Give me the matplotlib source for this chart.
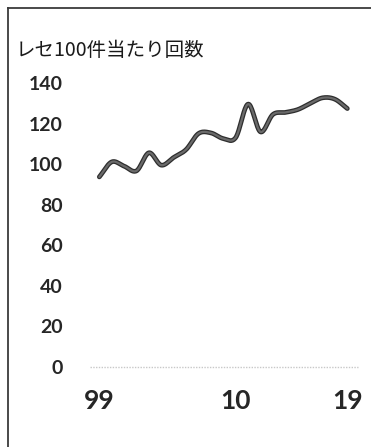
import numpy as np
import matplotlib
matplotlib.use("Agg")
import matplotlib.pyplot as plt
import matplotlib.patheffects as pe
from matplotlib.lines import Line2D

# Receipt-based count per 100 claims, fiscal 1999-2019
years = list(range(1999, 2020))
counts = [93.7, 101.1, 99.0, 96.7, 105.6, 99.5, 103.3, 107.2, 115.1, 115.4,
          112.6, 113.1, 129.6, 115.9, 124.5, 125.5, 126.9, 129.9, 132.7, 132.0,
          127.4]
y_ticks = [0, 20, 40, 60, 80, 100, 120, 140]
x_ticks = [1999, 2010, 2019]
x_ticklabels = ["99", "10", "19"]
ylabel_text = "レセ100件当たり回数"


def catmull_rom(x, y, n=20):
    """Smooth curve through the given points (Excel-style smoothed line)."""
    x = np.asarray(x, float)
    y = np.asarray(y, float)
    px = np.concatenate([[2 * x[0] - x[1]], x, [2 * x[-1] - x[-2]]])
    py = np.concatenate([[2 * y[0] - y[1]], y, [2 * y[-1] - y[-2]]])
    xs, ys = [], []
    t = np.linspace(0, 1, n, endpoint=False)
    for i in range(1, len(px) - 2):
        for arr, out in ((px, xs), (py, ys)):
            p0, p1, p2, p3 = arr[i - 1], arr[i], arr[i + 1], arr[i + 2]
            out.extend(0.5 * ((2 * p1) + (-p0 + p2) * t
                              + (2 * p0 - 5 * p1 + 4 * p2 - p3) * t ** 2
                              + (-p0 + 3 * p1 - 3 * p2 + p3) * t ** 3))
    xs.append(x[-1])
    ys.append(y[-1])
    return np.array(xs), np.array(ys)


W, H = 371, 447
fig = plt.figure(figsize=(W / 100, H / 100), dpi=100)
fig.patch.set_facecolor("white")

# axes placed in pixel terms: x 90..358, y 83 (top) .. 367 (zero line)
left, right, top, bottom = 90, 358, 83, 367
ax = fig.add_axes([left / W, 1 - bottom / H, (right - left) / W, (bottom - top) / H])
ax.set_xlim(1998.25, 2019.86)
ax.set_ylim(0, 140)
ax.set_facecolor("none")
for s in ax.spines.values():
    s.set_visible(False)

ax.axhline(0, color="#c8c8c8", lw=1.0, ls=(0, (1, 1)), clip_on=False)

sx, sy = catmull_rom(years, counts)
ax.plot(sx, sy, color="#6a6a6a", lw=1.6, solid_capstyle="round",
        path_effects=[pe.Stroke(linewidth=3.4, foreground="#2e2e2e"), pe.Normal()])

ax.set_yticks(y_ticks)
ax.set_yticklabels([str(v) for v in y_ticks], fontfamily="Lato",
                   fontweight="bold", fontsize=14, color="#262626")
ax.set_xticks(x_ticks)
ax.set_xticklabels(x_ticklabels, fontfamily="Lato", fontweight="bold",
                   fontsize=19, color="#262626")
ax.tick_params(axis="both", length=0)
ax.tick_params(axis="y", pad=19.5)
ax.tick_params(axis="x", pad=16)
ax.grid(False)

fig.text(16 / W, 1 - 50 / H, ylabel_text, fontsize=14, color="#1a1a1a",
         family=["Noto Sans CJK JP", "DejaVu Sans"], ha="left", va="center")

# frame around the panel (left and top edges)
fig.add_artist(Line2D([8 / W, 8 / W], [0, 1 - 8 / H], transform=fig.transFigure,
                      color="#3a3a3a", lw=1.3))
fig.add_artist(Line2D([8 / W, 1], [1 - 8 / H, 1 - 8 / H], transform=fig.transFigure,
                      color="#3a3a3a", lw=1.3))

fig.savefig("out.png", dpi=100, facecolor="white")
